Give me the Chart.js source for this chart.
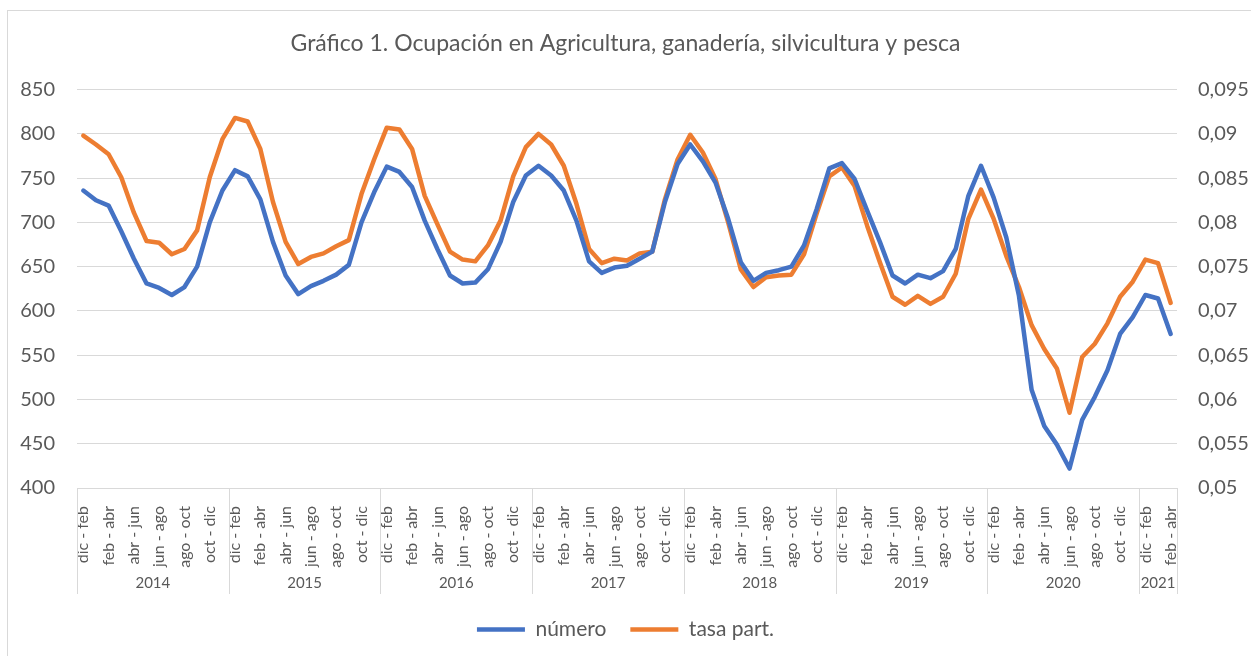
<!DOCTYPE html>
<html>
<head>
<meta charset="utf-8">
<title>Gráfico 1</title>
<script src="https://cdn.jsdelivr.net/npm/chart.js@4"></script>
<style>
  body { margin: 0; background: #fff; }
  canvas { display: block; }
</style>
</head>
<body>
<canvas id="grafico" width="1251" height="656"></canvas>
<script>
// datos (trimestres moviles)
const meses = ['dic - feb', 'ene - mar', 'feb - abr', 'mar - may', 'abr - jun', 'may - jul',
    'jun - ago', 'jul - sep', 'ago - oct', 'sep - nov', 'oct - dic', 'nov - ene'];
const anios = ['2014', '2015', '2016', '2017', '2018', '2019', '2020', '2021'];
const puntosPorAnio = [12, 12, 12, 12, 12, 12, 12, 3];

const numero = [
    736, 725, 719, 690, 659, 631, 626, 618, 627, 650, 700, 736,
    759, 752, 726, 678, 640, 619, 628, 634, 641, 652, 700, 734,
    763, 757, 740, 702, 670, 640, 631, 632, 647, 678, 723, 753,
    764, 753, 736, 702, 656, 643, 649, 651, 659, 667, 723, 766,
    788, 769, 745, 704, 655, 634, 643, 646, 650, 674, 715, 761,
    767, 749, 713, 678, 640, 631, 641, 637, 645, 670, 730, 764,
    728, 683, 617, 511, 470, 449, 422, 477, 503, 533, 574, 593,
    618, 614, 574
];
const tasaPart = [
    0.0898, 0.0888, 0.0877, 0.0851, 0.0811, 0.0779, 0.0777, 0.0764, 0.0770, 0.0791, 0.0851, 0.0894,
    0.0918, 0.0914, 0.0883, 0.0823, 0.0778, 0.0753, 0.0761, 0.0765, 0.0773, 0.0780, 0.0832, 0.0871,
    0.0907, 0.0905, 0.0883, 0.0830, 0.0798, 0.0767, 0.0758, 0.0756, 0.0774, 0.0802, 0.0852, 0.0885,
    0.0900, 0.0888, 0.0864, 0.0821, 0.0770, 0.0754, 0.0759, 0.0757, 0.0765, 0.0767, 0.0826, 0.0871,
    0.0899, 0.0879, 0.0849, 0.0800, 0.0747, 0.0727, 0.0738, 0.0740, 0.0741, 0.0764, 0.0810, 0.0852,
    0.0862, 0.0841, 0.0796, 0.0755, 0.0716, 0.0707, 0.0717, 0.0708, 0.0716, 0.0742, 0.0804, 0.0837,
    0.0804, 0.0762, 0.0727, 0.0684, 0.0657, 0.0635, 0.0585, 0.0648, 0.0663, 0.0686, 0.0716, 0.0733,
    0.0758, 0.0754, 0.0709
];

// etiquetas del eje x: una por punto
let etiquetas = [];
puntosPorAnio.forEach(function (n) {
    for (let i = 0; i < n; i++) etiquetas.push(meses[i]);
});

const gris = '#595959';
const lineaGris = '#d9d9d9';

Chart.defaults.font.family = 'Lato, "Open Sans", sans-serif';
Chart.defaults.color = gris;

// marco y fila de anios debajo de las etiquetas
const marcoYAnios = {
    id: 'marcoYAnios',
    beforeDraw(chart) {
        const ctx = chart.ctx;
        ctx.save();
        ctx.fillStyle = '#fff';
        ctx.fillRect(0, 0, chart.width, chart.height);
        ctx.strokeStyle = lineaGris;
        ctx.lineWidth = 1;
        ctx.strokeRect(7.5, 10.5, chart.width + 20, chart.height + 20);
        ctx.restore();
    },
    afterDraw(chart) {
        const ctx = chart.ctx;
        const x = chart.scales.x;
        const paso = x.getPixelForValue(1) - x.getPixelForValue(0);
        const yTop = chart.chartArea.bottom;
        const yBot = yTop + 106;
        ctx.save();
        ctx.strokeStyle = lineaGris;
        ctx.lineWidth = 1;
        ctx.fillStyle = gris;
        ctx.font = '15px Lato, sans-serif';
        ctx.textAlign = 'center';
        ctx.textBaseline = 'middle';
        let ini = 0;
        puntosPorAnio.forEach(function (n, k) {
            const x0 = x.getPixelForValue(ini) - paso / 2;
            const x1 = x.getPixelForValue(ini + n - 1) + paso / 2;
            ctx.beginPath();
            ctx.moveTo(Math.round(x0) + 0.5, yTop);
            ctx.lineTo(Math.round(x0) + 0.5, yBot);
            if (k === puntosPorAnio.length - 1) {
                ctx.moveTo(Math.round(x1) + 0.5, yTop);
                ctx.lineTo(Math.round(x1) + 0.5, yBot);
            }
            ctx.stroke();
            ctx.fillText(anios[k], (x0 + x1) / 2, yTop + 95);
            ini += n;
        });
        ctx.restore();
    }
};

new Chart(document.getElementById('grafico'), {
    type: 'line',
    data: {
        labels: etiquetas,
        datasets: [{
            label: 'número',
            data: numero,
            yAxisID: 'y',
            borderColor: '#4472C4',
            backgroundColor: '#4472C4',
            borderWidth: 4.5,
            borderCapStyle: 'round',
            borderJoinStyle: 'round',
            pointRadius: 0,
            tension: 0
        }, {
            label: 'tasa part.',
            data: tasaPart,
            yAxisID: 'y2',
            borderColor: '#ED7D31',
            backgroundColor: '#ED7D31',
            borderWidth: 4.5,
            borderCapStyle: 'round',
            borderJoinStyle: 'round',
            pointRadius: 0,
            tension: 0
        }]
    },
    options: {
        responsive: false,
        animation: false,
        layout: { padding: { top: 0, bottom: 6, left: 0, right: 0 } },
        plugins: {
            title: {
                display: true,
                text: 'Gráfico 1. Ocupación en Agricultura, ganadería, silvicultura y pesca',
                color: gris,
                font: { size: 23, weight: 'normal' },
                padding: { top: 30, bottom: 32 }
            },
            legend: {
                position: 'bottom',
                labels: {
                    color: gris,
                    font: { size: 21 },
                    usePointStyle: true,
                    pointStyle: 'line',
                    pointStyleWidth: 48,
                    padding: 24
                }
            },
            tooltip: { enabled: false }
        },
        scales: {
            x: {
                offset: true,
                grid: { display: false },
                border: { display: true, color: lineaGris },
                ticks: {
                    autoSkip: false,
                    maxRotation: 90,
                    minRotation: 90,
                    padding: 10,
                    color: gris,
                    font: { size: 16 },
                    callback: function (v, i) {
                        return i % 2 === 0 ? etiquetas[i] : '';
                    }
                },
                afterFit: function (scale) { scale.height = 107; }
            },
            y: {
                position: 'left',
                min: 400,
                max: 850,
                grid: { color: lineaGris, drawTicks: false },
                border: { display: false },
                ticks: {
                    stepSize: 50,
                    padding: 22,
                    color: gris,
                    font: { size: 20 }
                },
                afterFit: function (scale) { scale.width = 77; }
            },
            y2: {
                position: 'right',
                min: 0.05,
                max: 0.095,
                grid: { drawOnChartArea: false, drawTicks: false },
                border: { display: false },
                ticks: {
                    stepSize: 0.005,
                    padding: 21,
                    color: gris,
                    font: { size: 20 },
                    callback: function (v) {
                        return String(Math.round(v * 1000) / 1000).replace('.', ',');
                    }
                },
                afterFit: function (scale) { scale.width = 74; }
            }
        }
    },
    plugins: [marcoYAnios]
});
</script>
</body>
</html>
